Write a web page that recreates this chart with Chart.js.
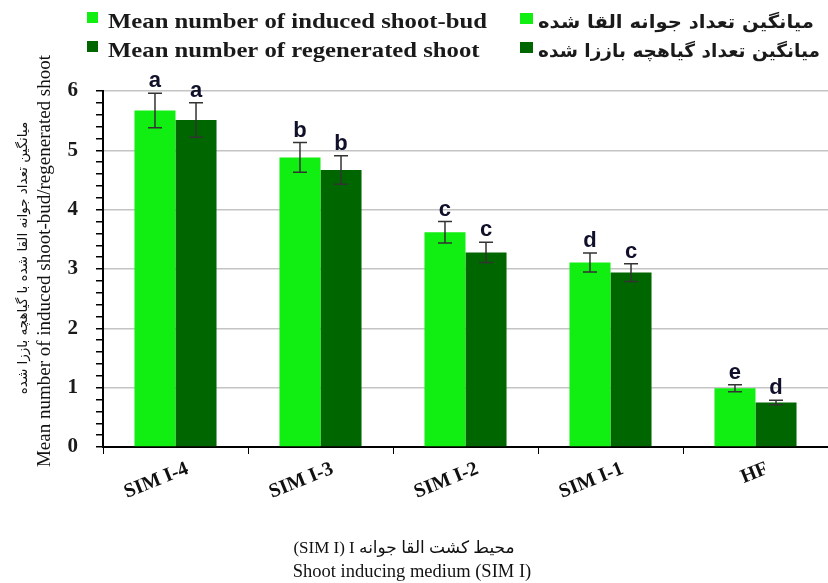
<!DOCTYPE html>
<html>
<head>
<meta charset="utf-8">
<script src="https://cdn.jsdelivr.net/npm/chart.js@4/dist/chart.umd.min.js"></script>
<style>
  html, body { margin: 0; padding: 0; background: #fff; }
  #wrap { width: 828px; height: 583px; }
</style>
</head>
<body>
<div id="wrap"><canvas id="shootChart" width="828" height="583"></canvas></div>
<script>
// data
const categories = ["SIM I-4", "SIM I-3", "SIM I-2", "SIM I-1", "HF"];
const inducedMeans = [5.67, 4.88, 3.62, 3.11, 0.99];
const inducedErrors = [0.29, 0.25, 0.18, 0.16, 0.06];
const inducedLetters = ["a", "b", "c", "d", "e"];
const regenMeans = [5.51, 4.67, 3.28, 2.94, 0.75];
const regenErrors = [0.29, 0.24, 0.17, 0.15, 0.04];
const regenLetters = ["a", "b", "c", "c", "d"];

const legendEnglish = ["Mean number of induced shoot-bud", "Mean number of regenerated shoot"];
const legendPersian = ["میانگین تعداد جوانه القا شده", "میانگین تعداد گیاهچه باززا شده"];
const yTitleEnglish = "Mean number of induced shoot-bud/regenerated shoot";
const yTitlePersian = "میانگین تعداد جوانه القا شده با گیاهچه باززا شده";
const xTitleLines = ["(SIM I) I محیط کشت القا جوانه", "Shoot inducing medium (SIM I)"];

const lightGreen = "#11ee11";
const darkGreen = "#006600";

const errors = [inducedErrors, regenErrors];
const letters = [inducedLetters, regenLetters];

// draw text stretched horizontally by sx
function stretchText(ctx, text, x, y, sx) {
    ctx.save();
    ctx.translate(x, y);
    ctx.scale(sx, 1);
    ctx.fillText(text, 0, 0);
    ctx.restore();
}

const extras = {
    id: "extras",
    afterDatasetsDraw(chart) {
        const ctx = chart.ctx;
        const y = chart.scales.y;
        ctx.save();
        chart.data.datasets.forEach((ds, d) => {
            const meta = chart.getDatasetMeta(d);
            meta.data.forEach((bar, i) => {
                const v = ds.data[i];
                const e = errors[d][i];
                const top = y.getPixelForValue(v + e);
                const bot = y.getPixelForValue(v - e);
                ctx.strokeStyle = "#333";
                ctx.lineWidth = 1.5;
                ctx.beginPath();
                ctx.moveTo(bar.x, top);
                ctx.lineTo(bar.x, bot);
                ctx.moveTo(bar.x - 7, top);
                ctx.lineTo(bar.x + 7, top);
                ctx.moveTo(bar.x - 7, bot);
                ctx.lineTo(bar.x + 7, bot);
                ctx.stroke();
                ctx.fillStyle = "#10102a";
                ctx.font = "bold 22px 'Liberation Sans', Arial, sans-serif";
                ctx.textAlign = "center";
                ctx.textBaseline = "alphabetic";
                ctx.fillText(letters[d][i], bar.x, top - 6);
            });
        });
        ctx.restore();
    },
    afterDraw(chart) {
        const ctx = chart.ctx;
        ctx.save();
        // legend
        const colors = [lightGreen, darkGreen];
        const rowsY = [28, 57];
        const faWidths = [276, 282];
        ctx.textAlign = "left";
        ctx.font = "bold 21px 'Liberation Serif', 'Times New Roman', serif";
        const enScale = 379 / ctx.measureText(legendEnglish[0]).width;
        for (let r = 0; r < 2; r++) {
            ctx.fillStyle = colors[r];
            ctx.fillRect(87, rowsY[r] - 16, 11, 11);
            ctx.fillRect(520, rowsY[r] - 15, 13, 11);
            ctx.fillStyle = "#1a1a1a";
            ctx.font = "bold 21px 'Liberation Serif', 'Times New Roman', serif";
            stretchText(ctx, legendEnglish[r], 108, rowsY[r], enScale);
            ctx.font = "bold 18px 'DejaVu Sans', sans-serif";
            const faScale = faWidths[r] / ctx.measureText(legendPersian[r]).width;
            stretchText(ctx, legendPersian[r], 538, rowsY[r], faScale);
        }
        // y title
        ctx.save();
        ctx.translate(50, 261);
        ctx.rotate(-Math.PI / 2);
        ctx.textAlign = "center";
        ctx.fillStyle = "#111";
        ctx.font = "19px 'Liberation Serif', 'Times New Roman', serif";
        ctx.fillText(yTitleEnglish, 0, 0);
        ctx.font = "13.5px 'DejaVu Sans', sans-serif";
        ctx.fillText(yTitlePersian, 3, -23);
        ctx.restore();
        // x title
        ctx.fillStyle = "#111";
        ctx.textAlign = "center";
        ctx.font = "17px 'Liberation Serif', 'DejaVu Sans', serif";
        ctx.fillText(xTitleLines[0], 404, 553);
        ctx.font = "18.5px 'Liberation Serif', 'Times New Roman', serif";
        ctx.fillText(xTitleLines[1], 412, 577);
        ctx.restore();
    }
};

const ctx = document.getElementById("shootChart").getContext("2d");
const shootChart = new Chart(ctx, {
    type: "bar",
    data: {
        labels: categories,
        datasets: [
            {
                label: legendEnglish[0],
                data: inducedMeans,
                backgroundColor: lightGreen,
                categoryPercentage: 0.566,
                barPercentage: 1.0,
            },
            {
                label: legendEnglish[1],
                data: regenMeans,
                backgroundColor: darkGreen,
                categoryPercentage: 0.566,
                barPercentage: 1.0,
            }
        ]
    },
    options: {
        responsive: false,
        animation: false,
        layout: { padding: { top: 91, left: 0, right: 0, bottom: 0 } },
        plugins: {
            legend: { display: false },
            tooltip: { enabled: false },
        },
        scales: {
            x: {
                afterFit(scale) { scale.height = 136; },
                border: { color: "#000", width: 2 },
                grid: { drawOnChartArea: false, tickLength: 7, tickColor: "#000", offset: true },
                ticks: {
                    color: "#111",
                    font: { family: "'Liberation Serif', 'Times New Roman', serif", size: 20, weight: "bold" },
                    minRotation: 22,
                    maxRotation: 22,
                    padding: 3,
                    labelOffset: 12,
                }
            },
            y: {
                min: 0,
                max: 6,
                afterFit(scale) { scale.width = 103; },
                border: { color: "#000", width: 2 },
                grid: {
                    color: (c) => Math.abs(c.tick.value - Math.round(c.tick.value)) < 1e-6 ? "#c4c4c4" : "rgba(0,0,0,0)",
                    lineWidth: 1.5,
                    tickColor: "#000",
                    tickLength: 7,
                },
                ticks: {
                    stepSize: 0.2,
                    autoSkip: false,
                    padding: 18,
                    color: "#1a1a1a",
                    font: { family: "'Liberation Serif', 'Times New Roman', serif", size: 21, weight: "bold" },
                    callback: (v) => Math.abs(v - Math.round(v)) < 1e-6 ? Math.round(v) : "",
                }
            }
        }
    },
    plugins: [extras]
});
</script>
</body>
</html>
